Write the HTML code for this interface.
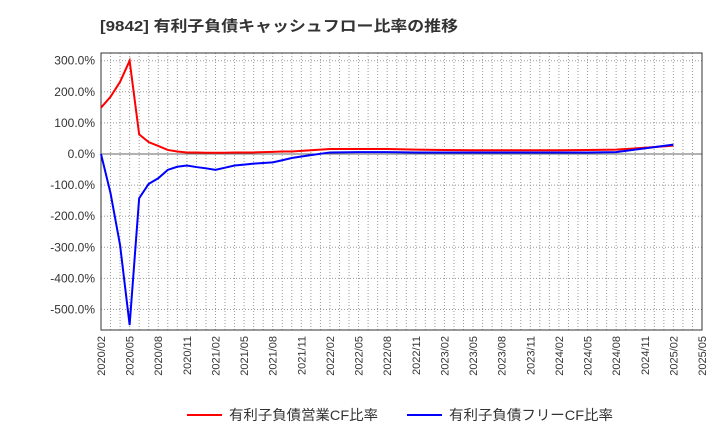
<!DOCTYPE html>
<html><head><meta charset="utf-8"><style>
body{margin:0;background:#fff;font-family:"Liberation Sans","Noto Sans CJK JP",sans-serif}
</style></head><body>
<svg id="c" width="720" height="440" xmlns="http://www.w3.org/2000/svg" style="font-family:'Liberation Sans','Noto Sans CJK JP',sans-serif">
<text x="100" y="31" font-size="15" font-weight="bold" fill="#333" textLength="358" lengthAdjust="spacingAndGlyphs">[9842]  有利子負債キャッシュフロー比率の推移</text>
<g id="grid"></g><g id="axes"></g><g id="series"></g>
<g>
<line x1="187" y1="415" x2="222" y2="415" stroke="#f00" stroke-width="2"/>
<text x="229" y="420" font-size="14" fill="#333" textLength="149" lengthAdjust="spacingAndGlyphs">有利子負債営業CF比率</text>
<line x1="407" y1="415" x2="442" y2="415" stroke="#00f" stroke-width="2"/>
<text x="449" y="420" font-size="14" fill="#333" textLength="164" lengthAdjust="spacingAndGlyphs">有利子負債フリーCF比率</text>
</g>
</svg>
<script>
// month index from 2020/02
const months=[0,1,2,3,4,5,6,7,8,9,10,11,12,13,14,15,16,17,18,19,20,21,24,27,30,33,36,39,42,45,48,51,54,57,60];
const opCF=[149,184,232,300,63,38,26,13,8,5,5,4,4,4,5,5,5,6,7,8,8,10,16,16,16,14,13,12,12,12,12,13,14,20,27];
const freeCF=[0,-126,-293,-550,-142,-96,-78,-51,-41,-37,-42,-46,-51,-44,-37,-34,-31,-29,-27,-20,-13,-8,5,6,6,5,5,5,5,5,5,5,6,18,30];
const yTicks=[300,200,100,0,-100,-200,-300,-400,-500];
const xLabels=["2020/02","2020/05","2020/08","2020/11","2021/02","2021/05","2021/08","2021/11","2022/02","2022/05","2022/08","2022/11","2023/02","2023/05","2023/08","2023/11","2024/02","2024/05","2024/08","2024/11","2025/02","2025/05"];
const L=101,R=702,T=53,B=330;
const X=m=>L+m*(R-L)/63;
const Y=v=>154-v*0.311;
const ns="http://www.w3.org/2000/svg";
function mk(t,a,p){const e=document.createElementNS(ns,t);for(const k in a)e.setAttribute(k,a[k]);p.appendChild(e);return e;}
const grid=document.getElementById('grid'),axes=document.getElementById('axes'),ser=document.getElementById('series');
for(let m=1;m<63;m++){const g=mk('line',{x1:X(m),x2:X(m),y1:T,y2:B,stroke:'#999','stroke-dasharray':'1,2','stroke-width':1},grid);

}
yTicks.forEach(v=>{const g=mk('line',{x1:L,x2:R,y1:Y(v),y2:Y(v),stroke:v===0?'#666':'#999','stroke-dasharray':v===0?'':'1,2','stroke-width':1},grid);


const t=mk('text',{x:L-6,y:Y(v)+4,'text-anchor':'end','font-size':12,fill:'#333'},axes);t.textContent=v.toFixed(1)+'%';

});
xLabels.forEach((s,i)=>{const x=X(i*3);const t=mk('text',{x:x+4,y:B+6,'text-anchor':'end','font-size':11,fill:'#333',transform:`rotate(-90 ${x+4} ${B+6})`},axes);t.textContent=s;

});
const fr=mk('rect',{x:L,y:T,width:R-L,height:B-T,fill:'none',stroke:'#333'},axes);


function line(vals,col,name){const p=mk('polyline',{points:months.map((m,i)=>X(m)+','+Y(vals[i])).join(' '),fill:'none',stroke:col,'stroke-width':2},ser);

}
line(opCF,'#f00','operating-cf-ratio-line');
line(freeCF,'#00f','free-cf-ratio-line');
</script>
</body></html>
